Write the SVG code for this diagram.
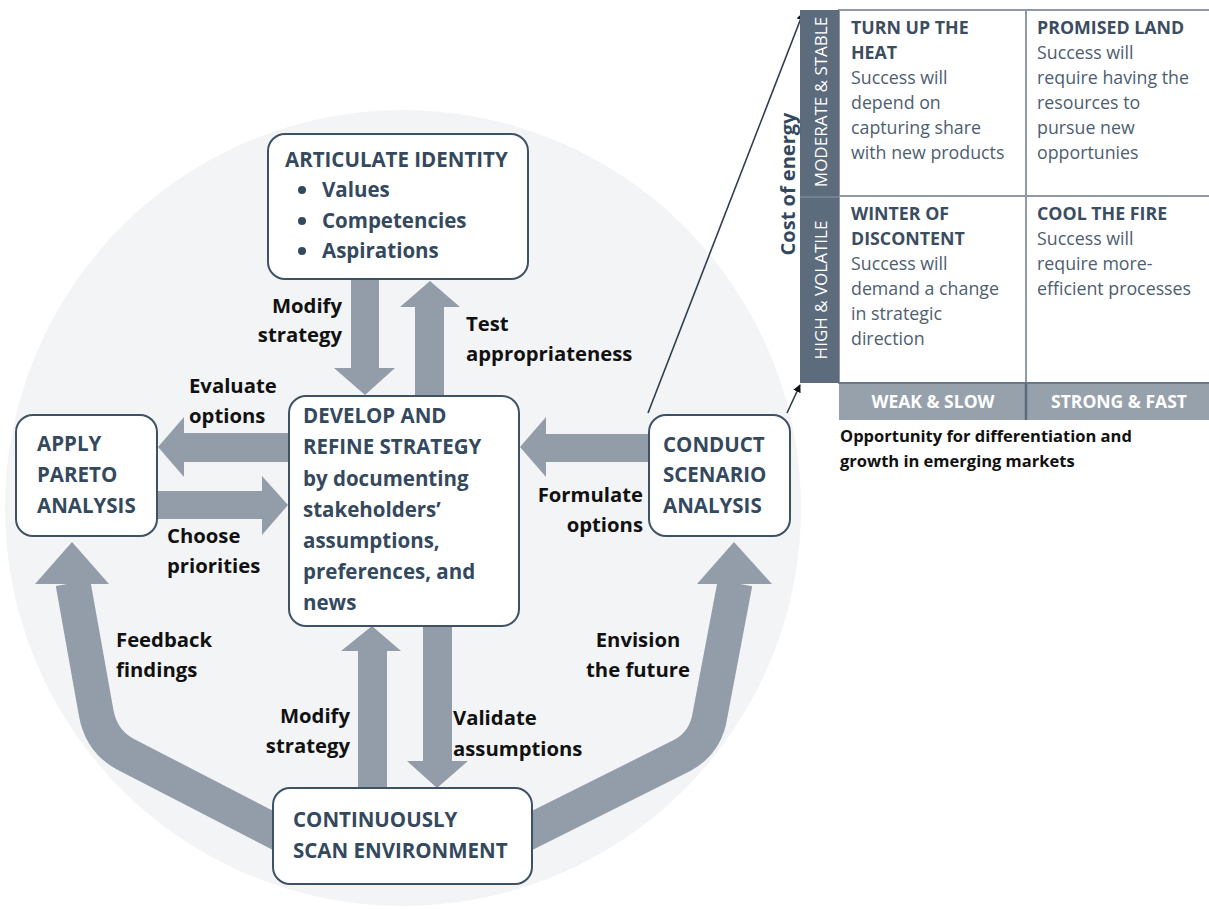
<svg xmlns="http://www.w3.org/2000/svg" width="1209" height="909" viewBox="0 0 1209 909">
<defs>
<style>
.node{fill:#fff;stroke:#3e5266;stroke-width:2}
.nt{font-family:"Open Sans","Liberation Sans",sans-serif;font-weight:700;font-size:20.5px;fill:#34495e}
.lbl{font-family:"Open Sans","Liberation Sans",sans-serif;font-weight:700;font-size:20.3px;fill:#111}
.arr{fill:#939daa}
.band{fill:none;stroke:#939daa;stroke-width:35;stroke-linejoin:round}
.ct{font-family:"Open Sans","Liberation Sans",sans-serif;font-weight:700;font-size:17.8px;fill:#3b4d61}
.cb{font-family:"Open Sans","Liberation Sans",sans-serif;font-size:17.8px;fill:#4d5e70}
.wt{font-family:"Open Sans","Liberation Sans",sans-serif;font-size:17px;fill:#fff}
.wtb{font-family:"Open Sans","Liberation Sans",sans-serif;font-weight:700;font-size:17.5px;fill:#fff}
.cell{fill:#fff;stroke:#8f9aa6;stroke-width:2}
.thin{stroke:#2c3e50;stroke-width:1.6;fill:none}
</style>
<marker id="ah" viewBox="0 0 10 10" refX="9" refY="5" markerWidth="8" markerHeight="8" orient="auto" markerUnits="userSpaceOnUse">
<path d="M0,0 L10,5 L0,10 z" fill="#111"/>
</marker>
</defs>
<rect width="1209" height="909" fill="#fff"/>
<circle cx="403" cy="508" r="398" fill="#f3f4f6"/>

<g id="connectors">
<polygon class="arr" points="351,279 379,279 379,368 395,368 365,395 334,368 351,368"/>
<polygon class="arr" points="415,396 444,396 444,307 460,307 430,281 400,307 415,307"/>
<polygon class="arr" points="289,433 289,462 184,462 184,477 158,447 184,417 184,433"/>
<polygon class="arr" points="157,491 262,491 262,476 288,505 262,535 262,519 157,519"/>
<polygon class="arr" points="649,434 649,462 546,462 546,477 520,447 546,417 546,434"/>
<polygon class="arr" points="358,788 358,651 341,651 372,626 401,651 387,651 387,788"/>
<polygon class="arr" points="423,626 452,626 452,761 468,761 437,788 407,761 423,761"/>
<path class="band" d="M 280 834 L 125 754 Q 101 741 96 712 L 73 583"/>
<polygon class="arr" points="35,584 109,584 72,542"/>
<path class="band" d="M 525 834 L 683 755 Q 706 742 710 715 L 735 583"/>
<polygon class="arr" points="697,584 772,584 734,542"/>
<line class="thin" x1="648" y1="413" x2="803" y2="13" marker-end="url(#ah)"/>
<line class="thin" x1="787" y1="413" x2="800" y2="385" marker-end="url(#ah)"/>
</g>

<g id="labels">
<text class="lbl" x="342" y="313" text-anchor="end">Modify</text>
<text class="lbl" x="342" y="342" text-anchor="end">strategy</text>
<text class="lbl" x="466" y="331">Test</text>
<text class="lbl" x="466" y="361">appropriateness</text>
<text class="lbl" x="189" y="393">Evaluate</text>
<text class="lbl" x="189" y="423">options</text>
<text class="lbl" x="167" y="543">Choose</text>
<text class="lbl" x="167" y="573">priorities</text>
<text class="lbl" x="643" y="502" text-anchor="end">Formulate</text>
<text class="lbl" x="643" y="532" text-anchor="end">options</text>
<text class="lbl" x="116" y="647">Feedback</text>
<text class="lbl" x="116" y="677">findings</text>
<text class="lbl" x="638" y="647" text-anchor="middle">Envision</text>
<text class="lbl" x="638" y="677" text-anchor="middle">the future</text>
<text class="lbl" x="350" y="723" text-anchor="end">Modify</text>
<text class="lbl" x="350" y="753" text-anchor="end">strategy</text>
<text class="lbl" x="453" y="725">Validate</text>
<text class="lbl" x="453" y="756">assumptions</text>
</g>

<g id="articulate">
<rect class="node" x="268" y="134" width="260" height="145" rx="17"/>
<text class="nt" x="285" y="167">ARTICULATE IDENTITY</text>
<circle cx="302" cy="190" r="4" fill="#34495e"/>
<circle cx="302" cy="221" r="4" fill="#34495e"/>
<circle cx="302" cy="251" r="4" fill="#34495e"/>
<text class="nt" x="322" y="197">Values</text>
<text class="nt" x="322" y="228">Competencies</text>
<text class="nt" x="322" y="258">Aspirations</text>
</g>

<g id="develop">
<rect class="node" x="289" y="396" width="230" height="230" rx="17"/>
<text class="nt" x="303" y="423">DEVELOP AND</text>
<text class="nt" x="303" y="454">REFINE STRATEGY</text>
<text class="nt" x="303" y="486">by documenting</text>
<text class="nt" x="303" y="517">stakeholders’</text>
<text class="nt" x="303" y="548">assumptions,</text>
<text class="nt" x="303" y="579">preferences, and</text>
<text class="nt" x="303" y="610">news</text>
</g>

<g id="apply">
<rect class="node" x="16" y="415" width="141" height="121" rx="17"/>
<text class="nt" x="37" y="451">APPLY</text>
<text class="nt" x="37" y="482">PARETO</text>
<text class="nt" x="37" y="513">ANALYSIS</text>
</g>

<g id="conduct">
<rect class="node" x="649" y="415" width="141" height="121" rx="17"/>
<text class="nt" x="663" y="452">CONDUCT</text>
<text class="nt" x="663" y="482">SCENARIO</text>
<text class="nt" x="663" y="513">ANALYSIS</text>
</g>

<g id="scan">
<rect class="node" x="273" y="788" width="259" height="96" rx="17"/>
<text class="nt" x="293" y="827">CONTINUOUSLY</text>
<text class="nt" x="293" y="858">SCAN ENVIRONMENT</text>
</g>

<g id="matrix">
<rect class="cell" x="839" y="10" width="187" height="186"/>
<rect class="cell" x="1026" y="10" width="185" height="186"/>
<rect class="cell" x="839" y="196" width="187" height="187"/>
<rect class="cell" x="1026" y="196" width="185" height="187"/>
<rect x="800" y="10" width="39" height="373" fill="#5c6c7d"/>
<line x1="800" y1="197" x2="839" y2="197" stroke="#7d8a98" stroke-width="1.5"/>
<rect x="839" y="383" width="370" height="37" fill="#97a1ac"/>
<line x1="1026" y1="383" x2="1026" y2="420" stroke="#5c6c7d" stroke-width="2.5"/>
<line x1="839" y1="383" x2="1209" y2="383" stroke="#5c6c7d" stroke-width="1.5"/>
<text class="wt" transform="translate(827,102) rotate(-90)" text-anchor="middle">MODERATE &amp; STABLE</text>
<text class="wt" transform="translate(827,290) rotate(-90)" text-anchor="middle">HIGH &amp; VOLATILE</text>
<text class="wtb" x="933" y="408" text-anchor="middle">WEAK &amp; SLOW</text>
<text class="wtb" x="1119" y="408" text-anchor="middle">STRONG &amp; FAST</text>
<text class="nt" transform="translate(795,184) rotate(-90)" text-anchor="middle" style="font-size:20px">Cost of energy</text>
<text class="ct" x="851" y="34">TURN UP THE</text>
<text class="ct" x="851" y="59">HEAT</text>
<text class="cb" x="851" y="84">Success will</text>
<text class="cb" x="851" y="109">depend on</text>
<text class="cb" x="851" y="134">capturing share</text>
<text class="cb" x="851" y="159">with new products</text>
<text class="ct" x="1037" y="34">PROMISED LAND</text>
<text class="cb" x="1037" y="59">Success will</text>
<text class="cb" x="1037" y="84">require having the</text>
<text class="cb" x="1037" y="109">resources to</text>
<text class="cb" x="1037" y="134">pursue new</text>
<text class="cb" x="1037" y="159">opportunies</text>
<text class="ct" x="851" y="220">WINTER OF</text>
<text class="ct" x="851" y="245">DISCONTENT</text>
<text class="cb" x="851" y="270">Success will</text>
<text class="cb" x="851" y="295">demand a change</text>
<text class="cb" x="851" y="320">in strategic</text>
<text class="cb" x="851" y="345">direction</text>
<text class="ct" x="1037" y="220">COOL THE FIRE</text>
<text class="cb" x="1037" y="245">Success will</text>
<text class="cb" x="1037" y="270">require more-</text>
<text class="cb" x="1037" y="295">efficient processes</text>
<text class="lbl" x="840" y="442" style="font-size:16.5px">Opportunity for differentiation and</text>
<text class="lbl" x="840" y="467" style="font-size:16.5px">growth in emerging markets</text>
</g>
</svg>
